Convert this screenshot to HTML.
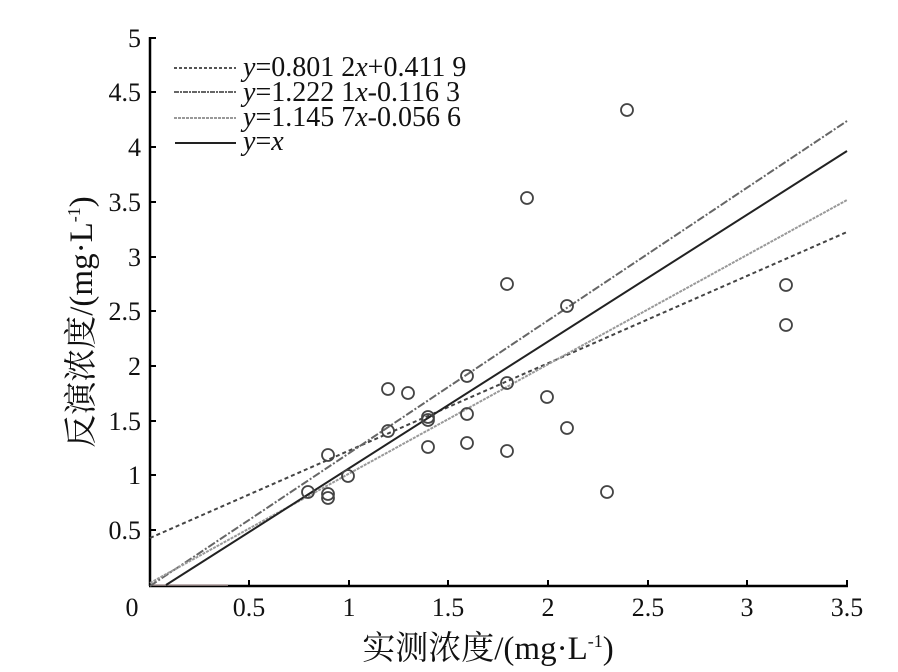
<!DOCTYPE html>
<html><head><meta charset="utf-8"><style>
body{margin:0;background:#fff}
text{font-family:"Liberation Serif","Noto Serif CJK SC",serif;fill:#111}
</style></head><body>
<svg width="898" height="667" viewBox="0 0 898 667" xmlns="http://www.w3.org/2000/svg">
<g stroke="#000" stroke-width="2.5" fill="none">
<line x1="150" y1="37" x2="150" y2="586"/>
<line x1="149" y1="586" x2="848" y2="586"/>
</g>
<g stroke="#000" stroke-width="2">
<line x1="150" y1="530" x2="156" y2="530"/><line x1="150" y1="475" x2="156" y2="475"/>
<line x1="150" y1="421" x2="156" y2="421"/><line x1="150" y1="366" x2="156" y2="366"/>
<line x1="150" y1="311" x2="156" y2="311"/><line x1="150" y1="257" x2="156" y2="257"/>
<line x1="150" y1="202" x2="156" y2="202"/><line x1="150" y1="147" x2="156" y2="147"/>
<line x1="150" y1="92" x2="156" y2="92"/><line x1="150" y1="38" x2="156" y2="38"/>
<line x1="249" y1="586" x2="249" y2="580"/><line x1="349" y1="586" x2="349" y2="580"/>
<line x1="448" y1="586" x2="448" y2="580"/><line x1="548" y1="586" x2="548" y2="580"/>
<line x1="648" y1="586" x2="648" y2="580"/><line x1="747" y1="586" x2="747" y2="580"/>
<line x1="847" y1="586" x2="847" y2="580"/>
</g>
<line x1="152" y1="585" x2="228" y2="585" stroke="#a99" stroke-width="1.5"/>
<g font-size="26" text-anchor="end">
<text x="141" y="539">0.5</text><text x="141" y="484">1</text><text x="141" y="430">1.5</text>
<text x="141" y="375">2</text><text x="141" y="320">2.5</text><text x="141" y="266">3</text>
<text x="141" y="211">3.5</text><text x="141" y="156">4</text><text x="141" y="101">4.5</text>
<text x="141" y="47">5</text>
</g>
<g font-size="26" text-anchor="middle">
<text x="132" y="616">0</text><text x="249" y="616">0.5</text><text x="349" y="616">1</text>
<text x="448" y="616">1.5</text><text x="548" y="616">2</text><text x="648" y="616">2.5</text>
<text x="747" y="616">3</text><text x="847" y="616">3.5</text>
</g>
<text x="488" y="659" font-size="33" text-anchor="middle">实测浓度/(mg·L<tspan font-size="18" dy="-12">-1</tspan><tspan dy="12">)</tspan></text>
<text transform="translate(92,322) rotate(-90)" font-size="33" text-anchor="middle">反演浓度/(mg·L<tspan font-size="18" dy="-12">-1</tspan><tspan dy="12">)</tspan></text>
<line x1="150" y1="538" x2="847" y2="232" stroke="#444" stroke-width="2" stroke-dasharray="4,3"/>
<line x1="150" y1="586" x2="847" y2="121" stroke="#666" stroke-width="2" stroke-dasharray="8,2,2,2"/>
<line x1="150" y1="583" x2="847" y2="200" stroke="#999" stroke-width="2" stroke-dasharray="3,1"/>
<line x1="166" y1="585" x2="847" y2="151" stroke="#222" stroke-width="2"/>
<g fill="none" stroke="#444" stroke-width="1.8">
<circle cx="308" cy="492" r="6"/><circle cx="328" cy="455" r="6"/><circle cx="328" cy="494" r="6"/>
<circle cx="328" cy="498" r="6"/><circle cx="348" cy="476" r="6"/><circle cx="388" cy="389" r="6"/>
<circle cx="388" cy="431" r="6"/><circle cx="408" cy="393" r="6"/><circle cx="428" cy="417" r="6"/>
<circle cx="428" cy="420" r="6"/><circle cx="428" cy="447" r="6"/><circle cx="467" cy="376" r="6"/>
<circle cx="467" cy="414" r="6"/><circle cx="467" cy="443" r="6"/><circle cx="507" cy="284" r="6"/>
<circle cx="507" cy="383" r="6"/><circle cx="507" cy="451" r="6"/><circle cx="527" cy="198" r="6"/>
<circle cx="547" cy="397" r="6"/><circle cx="567" cy="306" r="6"/><circle cx="567" cy="428" r="6"/>
<circle cx="607" cy="492" r="6"/><circle cx="627" cy="110" r="6"/><circle cx="786" cy="285" r="6"/>
<circle cx="786" cy="325" r="6"/>
</g>
<line x1="174" y1="68" x2="236" y2="68" stroke="#555" stroke-width="2" stroke-dasharray="3,2"/>
<line x1="174" y1="92" x2="236" y2="92" stroke="#666" stroke-width="2" stroke-dasharray="5,1,2,1"/>
<line x1="174" y1="118" x2="236" y2="118" stroke="#999" stroke-width="2" stroke-dasharray="3,1"/>
<line x1="175" y1="143" x2="236" y2="143" stroke="#222" stroke-width="2"/>
<g font-size="28">
<text x="243" y="76"><tspan font-style="italic">y</tspan>=0.801 2<tspan font-style="italic">x</tspan>+0.411 9</text>
<text x="243" y="101"><tspan font-style="italic">y</tspan>=1.222 1<tspan font-style="italic">x</tspan>-0.116 3</text>
<text x="243" y="126"><tspan font-style="italic">y</tspan>=1.145 7<tspan font-style="italic">x</tspan>-0.056 6</text>
<text x="243" y="150"><tspan font-style="italic">y</tspan>=<tspan font-style="italic">x</tspan></text>
</g>
</svg>
</body></html>
